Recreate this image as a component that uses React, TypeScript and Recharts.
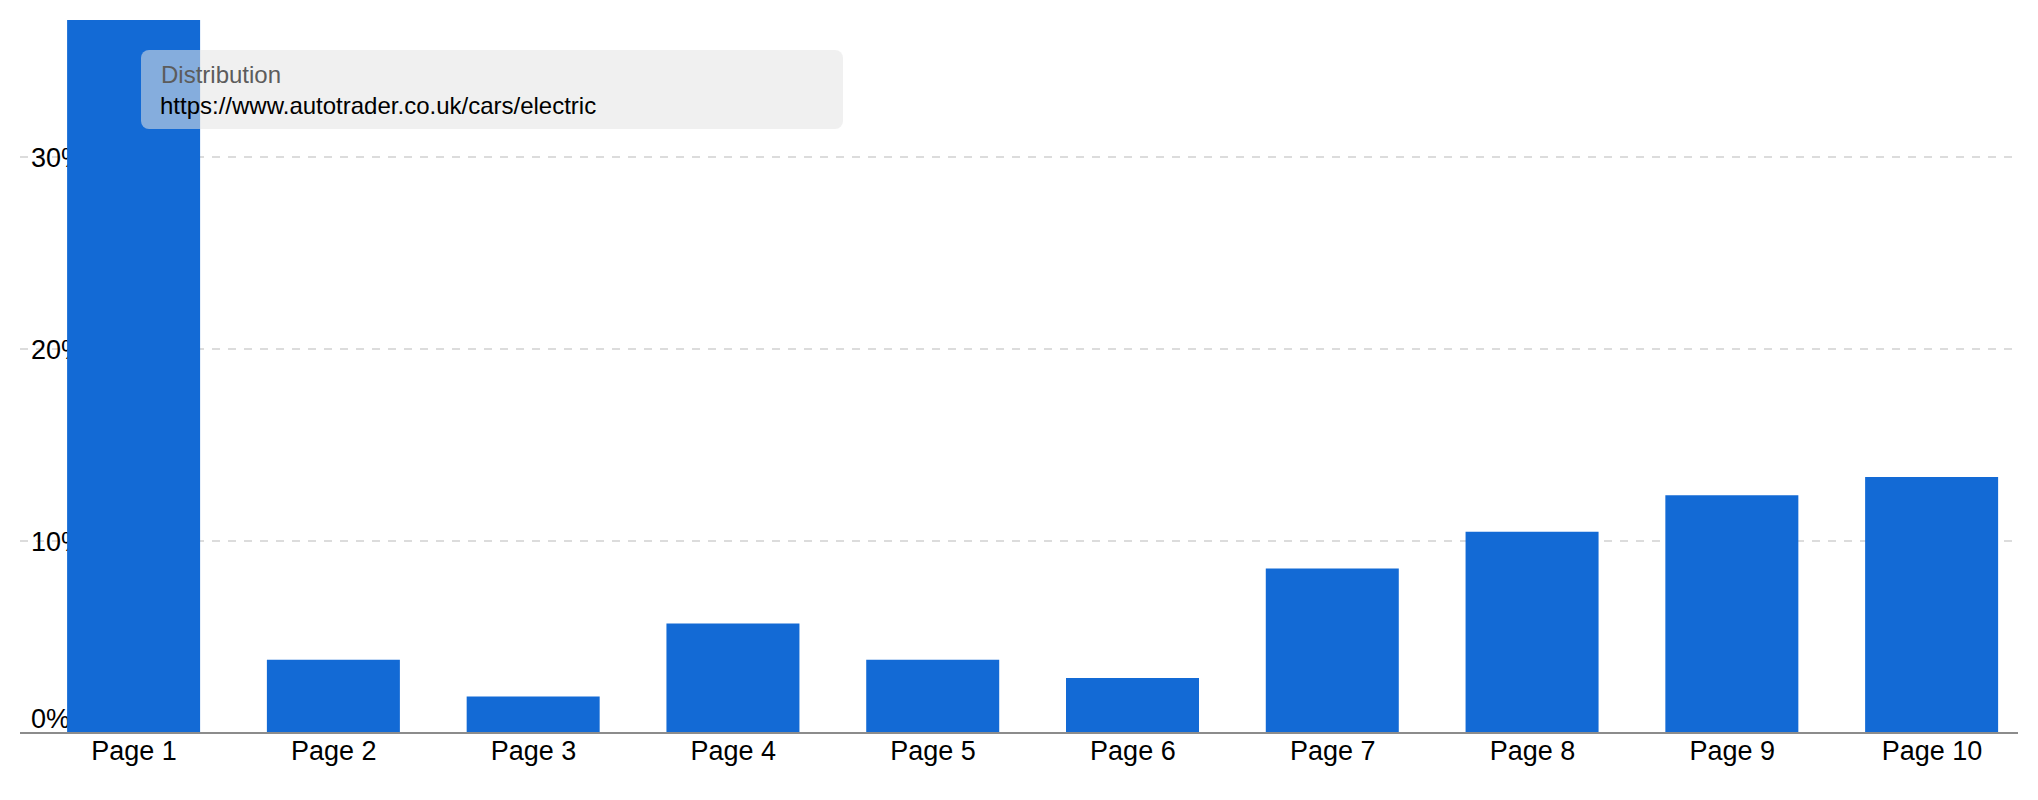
import React from "react";
import { BarChart, Bar, XAxis, YAxis, CartesianGrid } from "recharts";

const categories = ["Page 1", "Page 2", "Page 3", "Page 4", "Page 5", "Page 6", "Page 7", "Page 8", "Page 9", "Page 10"];
const shares = [37.14, 3.81, 1.9, 5.71, 3.81, 2.86, 8.57, 10.48, 12.38, 13.33];
const yTicks = [0, 10, 20, 30];
const gridValues = [10, 20, 30];
const legendTitle = "Distribution";
const legendUrl = "https://www.autotrader.co.uk/cars/electric";

const FONT = "Arial, 'Liberation Sans', Helvetica, sans-serif";
const BLUE = "#136ad5";
const W = 2038;
const H = 800;
const MARGIN = { top: 20, right: 20, bottom: 0, left: 20 };
const X_DOMAIN = [-0.5706, 9.4304];
const Y_DOMAIN = [0, 37.14];

const data = categories.map((name, i) => ({ idx: i, name, value: shares[i] }));

function YTick(props: any) {
  const { y, payload } = props;
  const isZero = payload.value === 0;
  return (
    <text
      x={31}
      y={isZero ? y - 15 : y}
      dy="0.355em"
      textAnchor="start"
      fontSize={27}
      fontFamily={FONT}
      fill="#000"
    >
      {`${payload.value}%`}
    </text>
  );
}

const layer: React.CSSProperties = { position: "absolute", left: 0, top: 0 };

export default function App() {
  return (
    <div style={{ position: "absolute", left: 0, top: 0, width: W, height: H, background: "#fff" }}>
      {/* back layer: grid + value labels, so the bars can cover them */}
      <div style={layer}>
        <BarChart width={W} height={H} data={data} margin={MARGIN}>
          <CartesianGrid
            vertical={false}
            horizontalValues={gridValues}
            stroke="#dcdcdc"
            strokeWidth={2}
            strokeDasharray="8 8"
          />
          <YAxis
            mirror
            domain={Y_DOMAIN}
            ticks={yTicks}
            allowDataOverflow
            axisLine={false}
            tickLine={false}
            tick={<YTick />}
          />
          <XAxis
            type="number"
            dataKey="idx"
            domain={X_DOMAIN}
            allowDataOverflow
            height={67}
            tick={false}
            tickLine={false}
            axisLine={false}
          />
        </BarChart>
      </div>
      {/* front layer: bars + category axis */}
      <div style={layer}>
        <BarChart width={W} height={H} data={data} margin={MARGIN}>
          <YAxis mirror domain={Y_DOMAIN} allowDataOverflow tick={false} axisLine={false} tickLine={false} />
          <XAxis
            type="number"
            dataKey="idx"
            domain={X_DOMAIN}
            ticks={categories.map((_, i) => i)}
            tickFormatter={(i: number) => categories[i]}
            allowDataOverflow
            height={67}
            tickLine={false}
            axisLine={{ stroke: "#8c8c8c", strokeWidth: 2 }}
            tick={{ fontSize: 27, fontFamily: FONT, fill: "#000" }}
          />
          <Bar dataKey="value" fill={BLUE} barSize={133} isAnimationActive={false} />
        </BarChart>
      </div>
      <div
        style={{
          position: "absolute",
          left: 141,
          top: 50,
          width: 702,
          height: 79,
          borderRadius: 8,
          background: "rgba(228,228,228,0.55)",
          fontFamily: FONT,
          fontSize: 24,
          lineHeight: 1,
        }}
      >
        <div style={{ position: "absolute", left: 20, top: 13, color: "#5c5c5c", whiteSpace: "nowrap" }}>{legendTitle}</div>
        <div style={{ position: "absolute", left: 19, top: 44, color: "#000", whiteSpace: "nowrap" }}>{legendUrl}</div>
      </div>
    </div>
  );
}
